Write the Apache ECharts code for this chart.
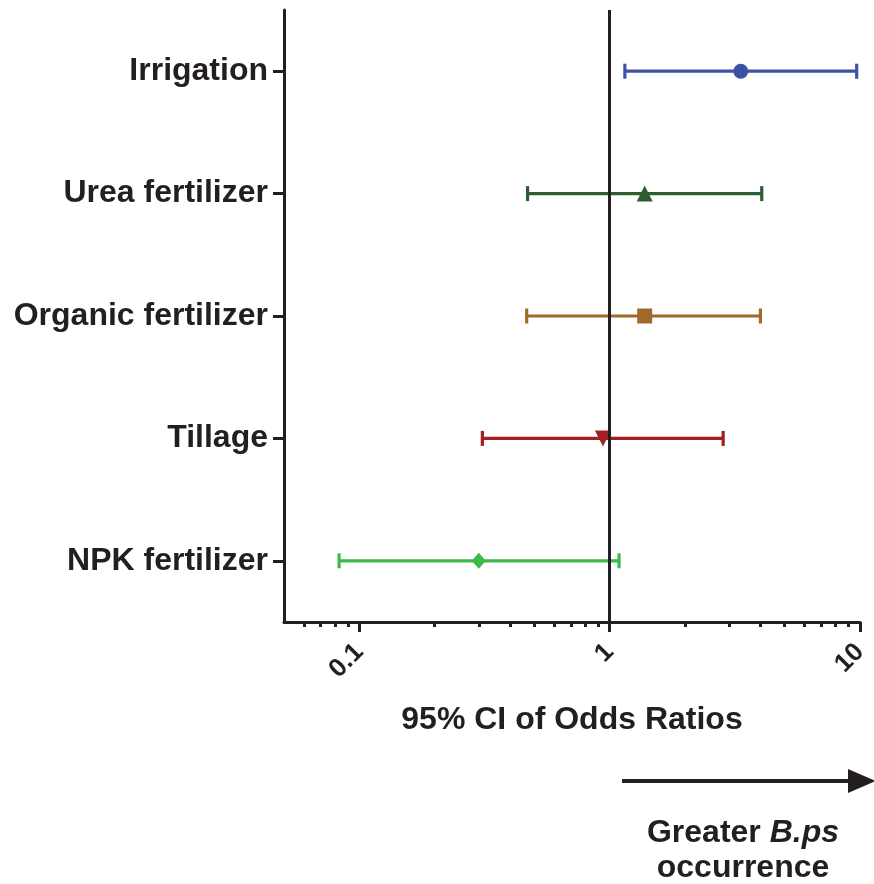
<!DOCTYPE html>
<html><head><meta charset="utf-8">
<script src="https://cdn.jsdelivr.net/npm/echarts@6/dist/echarts.min.js"></script>
<style>html,body{margin:0;padding:0;background:#fff}#c{width:874px;height:884px}</style>
</head><body><div id="c"></div>
<script>
const categories = ['Irrigation', 'Urea fertilizer', 'Organic fertilizer', 'Tillage', 'NPK fertilizer'];
const oddsRatio = [3.34, 1.38, 1.38, 0.94, 0.30];
const ciLow = [1.15, 0.47, 0.466, 0.31, 0.083];
const ciHigh = [9.7, 4.05, 4.0, 2.84, 1.09];
const majorTicks = [0.1, 1, 10];
const minorTicks = [0.06, 0.07, 0.08, 0.09, 0.2, 0.3, 0.4, 0.5, 0.6, 0.7, 0.8, 0.9, 2, 3, 4, 5, 6, 7, 8, 9];
const referenceValue = 1;
const xTitle = '95% CI of Odds Ratios';

const colors = ['#3A53A4', '#2E5E30', '#A0692C', '#A21F22', '#3DB94B'];
const symbols = ['circle', 'triangle', 'rect', 'triangle', 'diamond'];
const symbolRot = [0, 0, 0, 180, 0];
const symbolSizes = [15, 16, 15, 16, [14, 16]];
const INK = '#231F20';
const FONT = 'Liberation Sans, Arial, Helvetica, sans-serif';

const chart = echarts.init(document.getElementById('c'), null, {renderer: 'canvas'});

const barData = categories.map((c, i) => ({value: [ciLow[i], ciHigh[i], i], itemStyle: {color: colors[i]}}));
const pointData = categories.map((c, i) => ({
  value: [oddsRatio[i], i],
  symbol: symbols[i],
  symbolRotate: symbolRot[i],
  symbolSize: symbolSizes[i],
  itemStyle: {color: colors[i], opacity: 1}
}));

const option = {
  animation: false,
  backgroundColor: '#fff',
  grid: {left: 284, right: 14, top: 10, bottom: 262, containLabel: false},
  xAxis: [{
    type: 'log', logBase: 10, min: 0.05, max: 10, position: 'bottom',
    axisLine: {show: true, lineStyle: {color: INK, width: 3}},
    axisTick: {show: true, customValues: majorTicks, length: 10, lineStyle: {color: INK, width: 3}},
    axisLabel: {show: true, customValues: majorTicks, rotate: 45, margin: 26, fontSize: 26, fontWeight: 'bold', color: INK, fontFamily: FONT,
      formatter: v => String(v)},
    splitLine: {show: false}, minorTick: {show: false}
  }, {
    type: 'log', logBase: 10, min: 0.05, max: 10, position: 'bottom', offset: 0,
    axisLine: {show: false},
    axisTick: {show: true, customValues: minorTicks, length: 5, lineStyle: {color: INK, width: 3}},
    axisLabel: {show: false},
    splitLine: {show: false}
  }],
  yAxis: {
    type: 'category', data: categories, inverse: true,
    axisLine: {show: true, lineStyle: {color: INK, width: 3}},
    axisTick: {show: true, alignWithLabel: true, length: 11, lineStyle: {color: INK, width: 3}},
    axisLabel: {fontSize: 32, fontWeight: 'bold', color: INK, fontFamily: FONT, margin: 16},
    splitLine: {show: false}
  },
  series: [{
    type: 'scatter', data: [], z: 1,
    markLine: {silent: true, symbol: 'none', label: {show: false},
      lineStyle: {color: INK, width: 3, type: 'solid'},
      emphasis: {disabled: true},
      data: [{xAxis: referenceValue}]}
  }, {
    type: 'custom', z: 3,
    encode: {x: [0, 1], y: 2},
    data: barData,
    renderItem: function (params, api) {
      const lo = api.coord([api.value(0), api.value(2)]);
      const hi = api.coord([api.value(1), api.value(2)]);
      const col = api.visual('color');
      const h = 7.5;
      const st = {stroke: col, lineWidth: 3.2, fill: null};
      return {type: 'group', children: [
        {type: 'line', shape: {x1: lo[0], y1: lo[1], x2: hi[0], y2: hi[1]}, style: st},
        {type: 'line', shape: {x1: lo[0], y1: lo[1] - h, x2: lo[0], y2: lo[1] + h}, style: st},
        {type: 'line', shape: {x1: hi[0], y1: hi[1] - h, x2: hi[0], y2: hi[1] + h}, style: st}
      ]};
    }
  }, {
    type: 'scatter', z: 4, data: pointData, itemStyle: {opacity: 1}
  }],
  graphic: [
    {type: 'text', x: 572, y: 720,
      style: {text: xTitle, align: 'center', verticalAlign: 'middle', fontSize: 32, fontWeight: 'bold', fill: INK, fontFamily: FONT}},
    {type: 'line', shape: {x1: 622, y1: 781, x2: 852, y2: 781}, style: {stroke: INK, lineWidth: 4}},
    {type: 'polygon', shape: {points: [[848, 769], [876, 781], [848, 793]]}, style: {fill: INK}},
    {type: 'text', x: 743, y: 833, style: {align: 'center', verticalAlign: 'middle',
      text: '{n|Greater }{i|B.ps}', fill: INK, fontFamily: FONT,
      rich: {n: {fontSize: 32, fontWeight: 'bold', fontFamily: FONT, fill: INK, color: INK},
             i: {fontSize: 32, fontWeight: 'bold', fontStyle: 'italic', fontFamily: FONT, fill: INK, color: INK}}}},
    {type: 'text', x: 743, y: 868, style: {align: 'center', verticalAlign: 'middle', text: 'occurrence', fontSize: 32, fontWeight: 'bold', fill: INK, fontFamily: FONT}}
  ]
};
chart.setOption(option);
</script>
</body></html>
